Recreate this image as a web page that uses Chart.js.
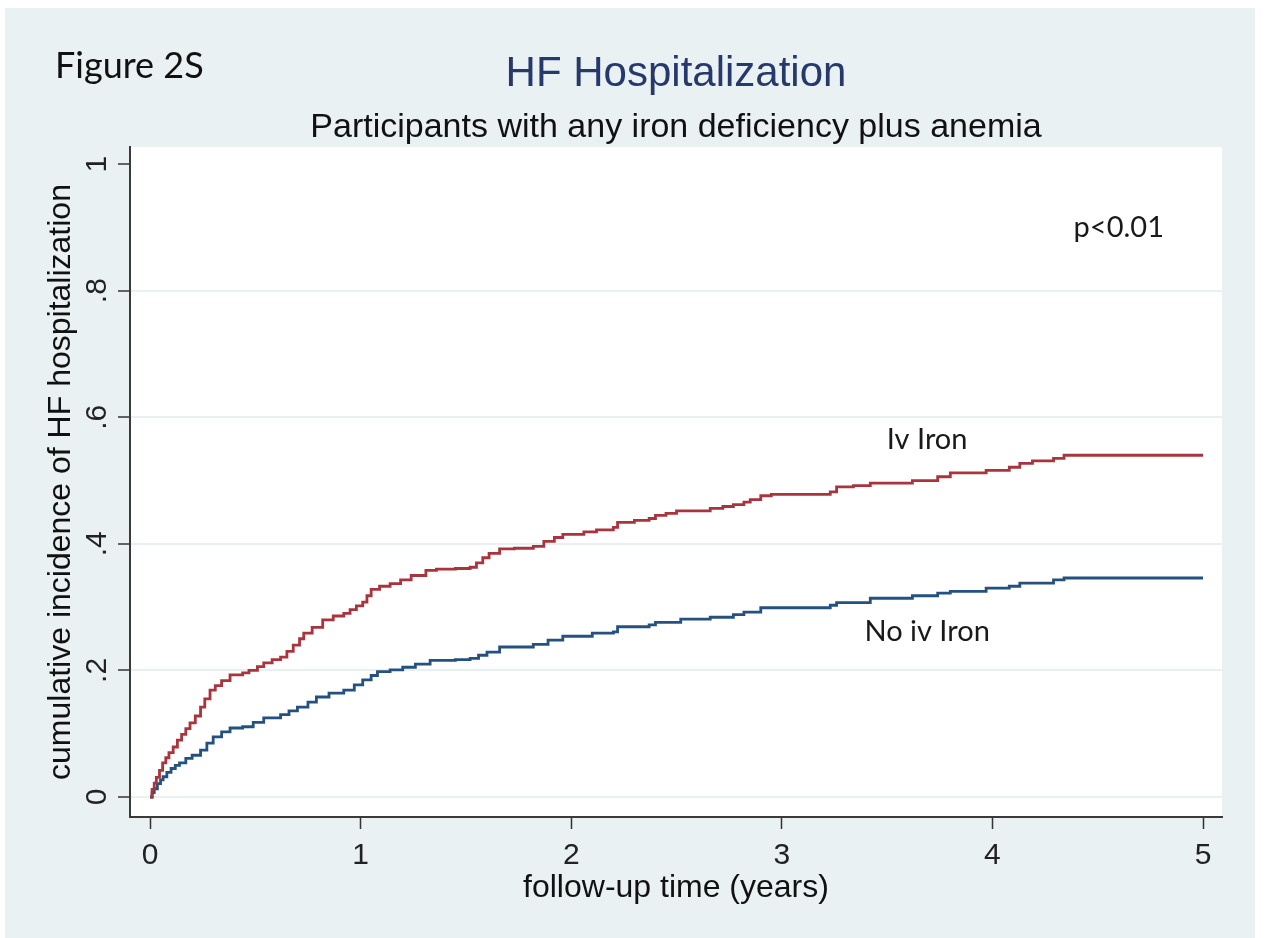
<!DOCTYPE html>
<html>
<head>
<meta charset="utf-8">
<title>HF Hospitalization</title>
<script src="https://cdn.jsdelivr.net/npm/chart.js@4.4.1/dist/chart.umd.min.js"></script>
<style>
  html, body { margin: 0; padding: 0; background: #ffffff; }
  #wrap { position: absolute; left: 5px; top: 8px; width: 1250px; height: 930px; }
</style>
</head>
<body>
<div id="wrap"><canvas id="chart"></canvas></div>
<script>
// Kaplan-Meier style cumulative incidence, event times in years
const ivIronTimes = [0, 0.01, 0.02, 0.03, 0.045, 0.06, 0.075, 0.09, 0.11, 0.13, 0.15, 0.17, 0.19, 0.215, 0.24, 0.26, 0.285, 0.31, 0.34, 0.38, 0.44, 0.47, 0.51, 0.54, 0.58, 0.62, 0.65, 0.68, 0.71, 0.73, 0.77, 0.82, 0.87, 0.92, 0.95, 0.98, 1.01, 1.03, 1.05, 1.09, 1.14, 1.19, 1.24, 1.31, 1.36, 1.45, 1.52, 1.55, 1.58, 1.61, 1.66, 1.73, 1.82, 1.87, 1.92, 1.96, 2.06, 2.12, 2.2, 2.22, 2.3, 2.37, 2.4, 2.45, 2.5, 2.66, 2.72, 2.77, 2.82, 2.85, 2.9, 2.95, 3.09, 3.23, 3.26, 3.34, 3.42, 3.62, 3.74, 3.8, 3.97, 4.08, 4.13, 4.19, 4.29, 4.34, 5.0];
const ivIronRisk = [0, 0.012, 0.022, 0.031, 0.042, 0.054, 0.062, 0.07, 0.079, 0.09, 0.099, 0.108, 0.117, 0.128, 0.142, 0.155, 0.169, 0.176, 0.184, 0.193, 0.196, 0.2, 0.206, 0.212, 0.217, 0.221, 0.23, 0.24, 0.25, 0.259, 0.268, 0.28, 0.286, 0.29, 0.296, 0.302, 0.308, 0.318, 0.328, 0.333, 0.337, 0.343, 0.35, 0.358, 0.36, 0.361, 0.363, 0.37, 0.378, 0.385, 0.392, 0.393, 0.396, 0.404, 0.41, 0.415, 0.419, 0.422, 0.426, 0.434, 0.437, 0.44, 0.445, 0.448, 0.452, 0.456, 0.459, 0.462, 0.466, 0.47, 0.476, 0.478, 0.478, 0.482, 0.49, 0.492, 0.496, 0.5, 0.506, 0.512, 0.516, 0.521, 0.527, 0.531, 0.535, 0.54, 0.54];

const noIvIronTimes = [0, 0.01, 0.02, 0.035, 0.05, 0.062, 0.08, 0.1, 0.12, 0.14, 0.17, 0.2, 0.24, 0.27, 0.3, 0.34, 0.38, 0.44, 0.49, 0.54, 0.62, 0.66, 0.7, 0.75, 0.79, 0.85, 0.92, 0.97, 1.01, 1.05, 1.08, 1.14, 1.2, 1.26, 1.33, 1.45, 1.52, 1.56, 1.6, 1.66, 1.82, 1.89, 1.96, 2.1, 2.2, 2.22, 2.37, 2.4, 2.52, 2.66, 2.77, 2.82, 2.9, 3.09, 3.23, 3.26, 3.42, 3.62, 3.74, 3.8, 3.97, 4.08, 4.13, 4.29, 4.34, 5.0];
const noIvIronRisk = [0, 0.007, 0.013, 0.021, 0.027, 0.032, 0.039, 0.045, 0.05, 0.054, 0.061, 0.066, 0.074, 0.085, 0.095, 0.103, 0.109, 0.111, 0.118, 0.125, 0.13, 0.136, 0.142, 0.15, 0.158, 0.164, 0.169, 0.177, 0.185, 0.192, 0.198, 0.201, 0.205, 0.21, 0.216, 0.217, 0.219, 0.224, 0.229, 0.237, 0.241, 0.248, 0.254, 0.259, 0.261, 0.269, 0.272, 0.276, 0.281, 0.284, 0.288, 0.292, 0.299, 0.299, 0.303, 0.307, 0.314, 0.318, 0.322, 0.325, 0.33, 0.333, 0.338, 0.343, 0.346, 0.346];

const xTicks = [0, 1, 2, 3, 4, 5];
const yTicks = [0, 0.2, 0.4, 0.6, 0.8, 1];
const yTickLabels = ['0', '.2', '.4', '.6', '.8', '1'];

// in-plot text notes, anchored in data units (years, cumulative incidence)
const noteTexts = ['Iv Iron', 'No iv Iron', 'p<0.01'];
const noteYears = [3.69, 3.69, 4.6];
const noteLevels = [0.564, 0.262, 0.9];

const toPoints = (xs, ys) => xs.map((x, i) => ({ x: x, y: ys[i] }));

const SANS = '"Liberation Sans", Arial, sans-serif';
const HUMANIST = 'Lato, "Open Sans", sans-serif';

const panelPlugin = {
  id: 'panel',
  beforeDraw(chart) {
    const { ctx, chartArea: a } = chart;
    ctx.save();
    ctx.fillStyle = '#e9f1f3';
    ctx.fillRect(0, 0, chart.width, chart.height);
    ctx.fillStyle = '#ffffff';
    ctx.fillRect(a.left, a.top, a.right - a.left, a.bottom - a.top);
    ctx.restore();
  }
};

const notesPlugin = {
  id: 'notes',
  afterDatasetsDraw(chart) {
    const { ctx, scales } = chart;
    ctx.save();
    ctx.fillStyle = '#1a1a1a';
    ctx.font = '29px ' + HUMANIST;
    ctx.textAlign = 'center';
    ctx.textBaseline = 'middle';
    noteTexts.forEach((t, i) => {
      ctx.fillText(t, scales.x.getPixelForValue(noteYears[i]), scales.y.getPixelForValue(noteLevels[i]));
    });
    ctx.font = '36px ' + HUMANIST;
    ctx.textAlign = 'left';
    ctx.textBaseline = 'alphabetic';
    ctx.fillStyle = '#111111';
    ctx.fillText('Figure 2S', 50, 70);
    ctx.restore();
  }
};

new Chart(document.getElementById('chart'), {
  type: 'line',
  data: {
    datasets: [
      {
        label: 'Iv Iron',
        data: toPoints(ivIronTimes, ivIronRisk),
        borderColor: '#a8343d',
        borderWidth: 2.8,
        stepped: 'before',
        pointRadius: 0,
        fill: false
      },
      {
        label: 'No iv Iron',
        data: toPoints(noIvIronTimes, noIvIronRisk),
        borderColor: '#24517f',
        borderWidth: 2.8,
        stepped: 'before',
        pointRadius: 0,
        fill: false
      }
    ]
  },
  options: {
    responsive: true,
    maintainAspectRatio: false,
    devicePixelRatio: 1,
    animation: false,
    layout: { padding: { left: 10, right: 33, top: 0, bottom: 0 } },
    plugins: {
      legend: { display: false },
      tooltip: { enabled: false },
      title: {
        display: true,
        fullSize: false,
        text: 'HF Hospitalization',
        color: '#27396b',
        font: { family: SANS, size: 42, weight: 'normal' },
        padding: { top: 40.8, bottom: 0 }
      },
      subtitle: {
        display: true,
        fullSize: false,
        text: 'Participants with any iron deficiency plus anemia',
        color: '#111111',
        font: { family: SANS, size: 34, weight: 'normal', lineHeight: 1.0 },
        padding: { top: 11.8, bottom: 2 }
      }
    },
    scales: {
      x: {
        type: 'linear',
        min: -0.095,
        max: 5.09,
        afterBuildTicks(scale) { scale.ticks = xTicks.map(v => ({ value: v })); },
        afterFit(scale) { scale.height = 121; },
        ticks: {
          color: '#222222',
          font: { family: SANS, size: 30 },
          padding: 9,
          maxRotation: 0,
          minRotation: 0,
          callback: (v) => String(v)
        },
        grid: {
          drawOnChartArea: false,
          drawTicks: true,
          tickLength: 12,
          tickWidth: 1.5,
          tickColor: '#333333'
        },
        border: { display: true, color: '#3a3a3a', width: 2 },
        title: {
          display: true,
          text: 'follow-up time (years)',
          color: '#111111',
          font: { family: SANS, size: 32 },
          padding: { top: 0, bottom: 31 }
        }
      },
      y: {
        type: 'linear',
        min: -0.0316,
        max: 1.027,
        afterBuildTicks(scale) { scale.ticks = yTicks.map(v => ({ value: v })); },
        afterFit(scale) { scale.width = 115; },
        ticks: {
          color: '#222222',
          font: { family: SANS, size: 30 },
          padding: 8,
          minRotation: 90,
          maxRotation: 90,
          crossAlign: 'center',
          callback: (v) => yTickLabels[yTicks.indexOf(v)]
        },
        grid: {
          drawOnChartArea: true,
          drawTicks: true,
          tickLength: 12,
          tickWidth: 1.5,
          tickColor: '#333333',
          lineWidth: 2,
          color: (c) => (c.tick && c.tick.value === 1 ? 'rgba(0,0,0,0)' : '#e8f0f2')
        },
        border: { display: true, color: '#3a3a3a', width: 2 },
        title: {
          display: true,
          text: 'cumulative incidence of HF hospitalization',
          color: '#111111',
          font: { family: SANS, size: 32 },
          padding: { top: 26.8, bottom: 0 }
        }
      }
    }
  },
  plugins: [panelPlugin, notesPlugin]
});
</script>
</body>
</html>
